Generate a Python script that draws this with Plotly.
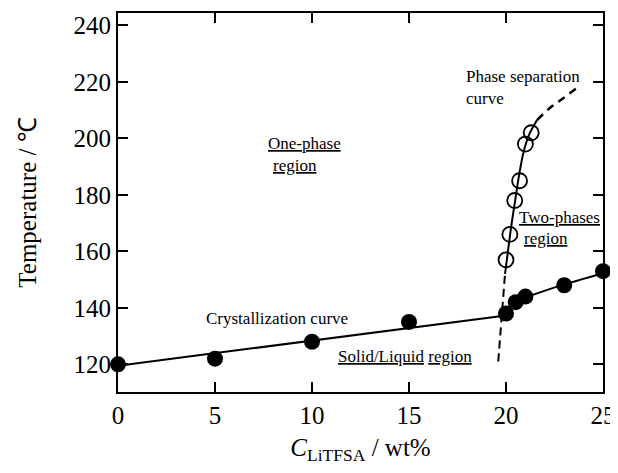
import plotly.graph_objects as go

# Measured data points
filled_x = [0, 5, 10, 15, 20, 20.5, 21, 23, 25]
filled_y = [120, 122, 128, 135, 138, 142, 144, 148, 153]
open_x = [20.0, 20.2, 20.45, 20.7, 21.0, 21.3]
open_y = [157, 166, 178, 185, 198, 202]

# Crystallization curve: straight part and bent part
cryst_a_x = [0, 20]
cryst_a_y = [119.5, 137.3]
cryst_b_x = [20, 20.5, 21, 23, 25]
cryst_b_y = [137.3, 141.0, 143.5, 148.3, 152.3]

# Phase separation curve: lower dashed, solid, upper dashed
ps_low_x = [19.6, 19.78, 19.95]
ps_low_y = [121, 137, 152]
ps_mid_x = [19.95, 20.1, 20.25, 20.45, 20.65, 20.9, 21.2, 21.6]
ps_mid_y = [152, 160, 168, 177, 186, 195, 201.5, 206.5]
ps_up_x = [21.6, 22.3, 23.0, 23.6]
ps_up_y = [206.5, 211, 214.5, 217.6]

x_ticks = [0, 5, 10, 15, 20, 25]
y_ticks = [120, 140, 160, 180, 200, 220, 240]

FONT = "Liberation Serif"
fig = go.Figure()

fig.add_trace(go.Scatter(x=cryst_a_x, y=cryst_a_y, mode="lines",
                         line=dict(color="black", width=2)))
fig.add_trace(go.Scatter(x=cryst_b_x, y=cryst_b_y, mode="lines",
                         line=dict(color="black", width=2, shape="spline", smoothing=0.5)))
fig.add_trace(go.Scatter(x=ps_low_x, y=ps_low_y, mode="lines",
                         line=dict(color="black", width=2, dash="8px,5px", shape="spline")))
fig.add_trace(go.Scatter(x=ps_mid_x, y=ps_mid_y, mode="lines",
                         line=dict(color="black", width=2, shape="spline", smoothing=0.6)))
fig.add_trace(go.Scatter(x=ps_up_x, y=ps_up_y, mode="lines",
                         line=dict(color="black", width=2.5, dash="8px,6px", shape="spline")))
fig.add_trace(go.Scatter(x=filled_x, y=filled_y, mode="markers",
                         marker=dict(symbol="circle", size=16, color="black"),
                         cliponaxis=False))
fig.add_trace(go.Scatter(x=open_x, y=open_y, mode="markers",
                         marker=dict(symbol="circle-open", size=15, color="black",
                                     line=dict(width=1.8, color="black")),
                         cliponaxis=False))

ann_font = dict(family=FONT, size=17, color="black")
annotations = [
    dict(x=17.9, y=217.9, text="Phase separation<br>curve", align="left"),
    dict(x=7.68, y=198.2, text="<u>One-phase</u>"),
    dict(x=7.94, y=190.4, text="<u>region</u>"),
    dict(x=20.62, y=172.1, text="<u>Two-phases</u>"),
    dict(x=20.9, y=164.5, text="<u>region</u>"),
    dict(x=4.48, y=136.2, text="Crystallization curve"),
    dict(x=11.27, y=122.6, text="<u>Solid/Liquid</u> <u>region</u>"),
]
for a in annotations:
    a.update(xref="x", yref="y", xanchor="left", yanchor="middle",
             showarrow=False, font=ann_font, borderpad=0)

axis_common = dict(showline=True, linecolor="black", linewidth=2, mirror="ticks",
                   ticks="inside", ticklen=10, tickwidth=2, tickcolor="black",
                   showgrid=False, zeroline=False, automargin=False,
                   tickfont=dict(family=FONT, size=25, color="black"))

# The page body adds an 8px offset; size the figure to compensate.
fig.update_layout(
    width=618, height=457,
    margin=dict(l=110, r=23, t=5, b=73),
    paper_bgcolor="white", plot_bgcolor="white",
    showlegend=False,
    annotations=annotations,
    xaxis=dict(range=[0, 25], tickvals=x_ticks, ticktext=[str(v) for v in x_ticks],
               title=dict(text="<i>C</i><sub>LiTFSA</sub> / wt%",
                          font=dict(family=FONT, size=25, color="black"), standoff=12),
               **axis_common),
    yaxis=dict(range=[110.2, 244.4], tickvals=y_ticks, ticktext=[str(v) for v in y_ticks],
               title=dict(text="Temperature / ℃",
                          font=dict(family=FONT, size=25, color="black"), standoff=30),
               **axis_common),
)

fig.write_html("out.html")
